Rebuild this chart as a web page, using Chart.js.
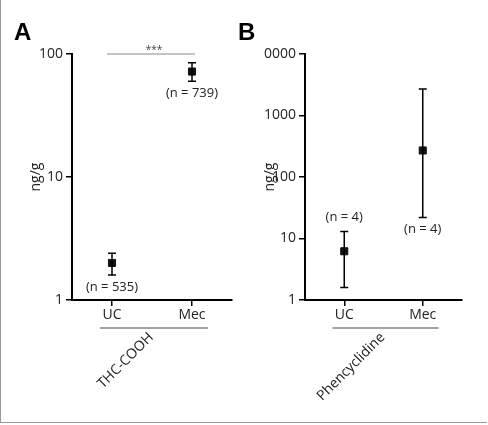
<!DOCTYPE html>
<html><head><meta charset="utf-8">
<script src="https://cdn.jsdelivr.net/npm/chart.js@4"></script>
<style>
body{margin:0;width:488px;height:425px;overflow:hidden;background:#fff;position:relative;font-family:"Open Sans",sans-serif}
#frame{position:absolute;left:0;top:0;width:486px;height:422px;border:1px solid #999;border-top:none;border-right:none}
canvas{position:absolute;top:0}
.lbl{position:absolute;font-weight:bold;font-size:24px;font-family:"Liberation Sans",Arial,sans-serif}
</style></head><body>
<div id="frame"></div>
<canvas id="cA" width="244" height="425" style="left:0"></canvas>
<canvas id="cB" width="244" height="425" style="left:244px"></canvas>
<div class="lbl" style="left:14px;top:18px">A</div>
<div class="lbl" style="left:238px;top:18px">B</div>
<script>
// ---- data ----
const groups = ['UC', 'Mec'];
const thcMean = [2.0, 72];
const thcLow = [1.6, 60];
const thcHigh = [2.4, 85];
const thcN = ['(n = 535)', '(n = 739)'];
const pcpMean = [6.2, 270];
const pcpLow = [1.6, 22];
const pcpHigh = [13, 2700];
const pcpN = ['(n = 4)', '(n = 4)'];
const thcTicks = [1, 10, 100];
const pcpTicks = [1, 10, 100, 1000, 10000];

const FONT = {family: '"Open Sans", sans-serif', size: 14};
const xOf = i => i * 2 + 1;   // UC -> 1, Mec -> 3

// error bars + n labels + group bracket + rotated name
const extrasPlugin = {
    id: 'extras',
    afterDatasetsDraw: (chart, args, opts) => {
        const ctx = chart.ctx;
        const x = chart.scales.x, y = chart.scales.y;
        ctx.save();
        ctx.strokeStyle = '#000';
        ctx.lineWidth = 1.5;
        opts.low.forEach((lo, i) => {
            const px = x.getPixelForValue(xOf(i));
            const yl = y.getPixelForValue(lo), yh = y.getPixelForValue(opts.high[i]);
            ctx.beginPath();
            ctx.moveTo(px, yl); ctx.lineTo(px, yh);
            ctx.moveTo(px - 4, yl); ctx.lineTo(px + 4, yl);
            ctx.moveTo(px - 4, yh); ctx.lineTo(px + 4, yh);
            ctx.stroke();
        });
        ctx.fillStyle = '#222';
        ctx.font = '13px "Open Sans", sans-serif';
        ctx.textAlign = 'center';
        opts.nLabels.forEach((t, i) => {
            const px = x.getPixelForValue(xOf(i));
            const py = opts.nPos[i] === 'below' ? y.getPixelForValue(opts.low[i]) + 16 : y.getPixelForValue(opts.high[i]) - 10;
            ctx.fillText(t, px, py);
        });
        // bracket under group labels
        const bx1 = x.getPixelForValue(0.7), bx2 = x.getPixelForValue(3.4);
        const by = chart.chartArea.bottom + 28;
        ctx.strokeStyle = '#444';
        ctx.lineWidth = 1.2;
        ctx.beginPath(); ctx.moveTo(bx1, by); ctx.lineTo(bx2, by); ctx.stroke();
        // rotated compound name
        ctx.save();
        ctx.translate(x.getPixelForValue(2) + 2, by + 10);
        ctx.rotate(-Math.PI / 4);
        ctx.textAlign = 'right';
        ctx.font = '14px "Open Sans", sans-serif';
        ctx.fillStyle = '#222';
        ctx.fillText(opts.name, 0, 0);
        ctx.restore();
        // significance line
        if (opts.sig) {
            ctx.strokeStyle = '#888';
            ctx.lineWidth = 1;
            const sy = chart.chartArea.top;
            ctx.beginPath(); ctx.moveTo(x.getPixelForValue(0.875), sy); ctx.lineTo(x.getPixelForValue(3.075), sy); ctx.stroke();
            ctx.fillStyle = '#444';
            ctx.font = '10px "Open Sans", sans-serif';
            ctx.fillText('***', x.getPixelForValue(2.05), sy - 1);
        }
        ctx.restore();
    }
};

function makeChart(id, mean, ticks, yMax, padLeft, yWidth, padRight, extras) {
    return new Chart(document.getElementById(id), {
        type: 'scatter',
        data: {
            datasets: [{
                data: mean.map((v, i) => ({x: xOf(i), y: v})),
                pointStyle: 'rect',
                pointRadius: 5,
                backgroundColor: '#111',
                borderColor: '#111'
            }]
        },
        options: {
            responsive: false,
            animation: false,
            layout: {padding: {top: 54, right: padRight, left: padLeft, bottom: 0}},
            plugins: {legend: {display: false}, tooltip: {enabled: false}, extras: extras},
            scales: {
                x: {
                    type: 'linear', min: 0, max: 4,
                    afterBuildTicks: s => { s.ticks = [{value: 1}, {value: 3}]; },
                    afterFit: s => { s.height = 125; },
                    ticks: {callback: v => groups[(v - 1) / 2], color: '#222', font: FONT, padding: 1, maxRotation: 0},
                    grid: {drawOnChartArea: false, tickLength: 6, color: '#000', lineWidth: 1.5},
                    border: {color: '#000', width: 2}
                },
                y: {
                    type: 'logarithmic', min: 1, max: yMax,
                    afterBuildTicks: s => { s.ticks = ticks.map(v => ({value: v})); },
                    afterFit: s => { s.width = yWidth; },
                    ticks: {callback: v => String(v), color: '#222', font: FONT, padding: 3},
                    title: {display: true, text: 'ng/g', color: '#222', font: {family: FONT.family, size: 14}, padding: 0},
                    grid: {drawOnChartArea: false, tickLength: 6, color: '#000', lineWidth: 1.5},
                    border: {color: '#000', width: 2}
                }
            }
        },
        plugins: [extrasPlugin]
    });
}

makeChart('cA', thcMean, thcTicks, 100, 28, 44, 12,
    {low: thcLow, high: thcHigh, nLabels: thcN, nPos: ['below', 'below'], name: 'THC-COOH', sig: true});
makeChart('cB', pcpMean, pcpTicks, 10000, 18, 43, 26,
    {low: pcpLow, high: pcpHigh, nLabels: pcpN, nPos: ['above', 'below'], name: 'Phencyclidine', sig: false});
</script>
</body></html>
